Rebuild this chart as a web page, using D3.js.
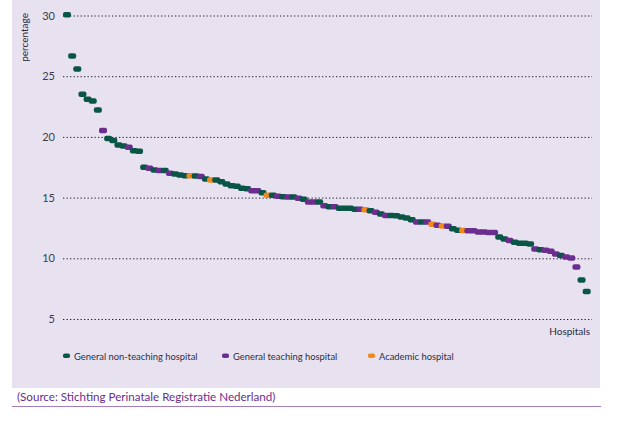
<!DOCTYPE html>
<html>
<head>
<meta charset="utf-8">
<script src="https://cdn.jsdelivr.net/npm/d3@7"></script>
<style>
  html, body { margin: 0; padding: 0; background: #ffffff; }
  svg { display: block; }
  text { font-family: Lato, "Open Sans", sans-serif; }
</style>
</head>
<body>
<svg id="chart" width="622" height="428"></svg>
<script>
// Hospital types: G = general non-teaching, P = general teaching, O = academic
const hospitalTypes = [
  "G","G","G","G","G","G","G","P","G","G",
  "G","G","P","G","G","G","P","G","P","G",
  "P","G","G","G","O","G","P","G","O","G",
  "G","G","G","G","G","G","P","P","G","O",
  "G","P","G","P","G","P","G","P","P","G",
  "P","G","P","G","G","G","G","P","O","G",
  "P","G","P","G","G","G","G","G","P","G",
  "P","O","P","O","P","G","G","O","P","P",
  "P","P","P","P","G","G","P","G","G","G",
  "G","P","G","P","P","P","G","P","P","P",
  "G","G"
];
const percentages = [
  30.07, 26.67, 25.60, 23.51, 23.10, 22.96, 22.22, 20.53, 19.86, 19.70,
  19.34, 19.26, 19.15, 18.85, 18.81, 17.49, 17.42, 17.28, 17.24, 17.24,
  17.01, 16.94, 16.87, 16.81, 16.81, 16.77, 16.73, 16.53, 16.44, 16.44,
  16.30, 16.12, 15.98, 15.94, 15.76, 15.72, 15.57, 15.56, 15.39, 15.20,
  15.20, 15.12, 15.06, 15.05, 15.04, 14.94, 14.87, 14.63, 14.63, 14.63,
  14.32, 14.24, 14.24, 14.13, 14.13, 14.13, 14.05, 14.05, 13.99, 13.91,
  13.80, 13.64, 13.52, 13.52, 13.51, 13.40, 13.31, 13.17, 12.98, 12.98,
  12.98, 12.81, 12.73, 12.67, 12.65, 12.43, 12.32, 12.29, 12.26, 12.26,
  12.16, 12.16, 12.12, 12.12, 11.75, 11.58, 11.47, 11.33, 11.25, 11.25,
  11.17, 10.76, 10.70, 10.66, 10.59, 10.35, 10.23, 10.10, 10.02, 9.28,
  8.21, 7.27
];
const yTicks = [5, 10, 15, 20, 25, 30];
const legendLabels = ["General non-teaching hospital", "General teaching hospital", "Academic hospital"];
const legendKeys = ["G", "P", "O"];
const yAxisTitle = "percentage";
const xAxisTitle = "Hospitals";
const sourceText = "(Source: Stichting Perinatale Registratie Nederland)";

const colors = { G: "#0a5646", P: "#6b2d8e", O: "#f0891e" };

const svg = d3.select("#chart");

// panel background
svg.append("rect").attr("x", 12).attr("y", 0).attr("width", 588).attr("height", 388)
  .attr("fill", "#e8e2f0");

const data = percentages.map((v, i) => ({ i, v, t: hospitalTypes[i] }));

const x = d3.scalePoint().domain(data.map(d => d.i)).range([67, 586.7]);
const y = d3.scaleLinear().domain([5, 30]).range([319, 15.5]);

// gridlines + tick labels via axis
const axis = d3.axisLeft(y).tickValues(yTicks).tickSize(-(592 - 63)).tickPadding(8).tickFormat(d3.format("d"));
const gAxis = svg.append("g").attr("transform", "translate(63,0)").call(axis);
gAxis.select(".domain").remove();
gAxis.selectAll(".tick line")
  .attr("stroke", "#1e1e28").attr("stroke-width", 1)
  .attr("stroke-dasharray", "1.3,2.2");
gAxis.selectAll(".tick text")
  .attr("fill", "#3c3c50").attr("font-size", 11).attr("x", -8);

// y axis title
svg.append("text")
  .attr("transform", "translate(28,13) rotate(-90)")
  .attr("text-anchor", "end")
  .attr("font-size", 10)
  .attr("fill", "#2a2a3a")
  .text(yAxisTitle);

// x axis title
svg.append("text")
  .attr("x", 590).attr("y", 335)
  .attr("text-anchor", "end")
  .attr("font-size", 10)
  .attr("fill", "#2a2a3a")
  .text(xAxisTitle);

// markers
svg.append("g").selectAll("rect").data(data).join("rect")
  .attr("x", d => x(d.i) - 4)
  .attr("y", d => y(d.v) - 2.75)
  .attr("width", 8).attr("height", 5.5)
  .attr("rx", 2).attr("ry", 2)
  .attr("fill", d => colors[d.t]);

// legend
const legendX = [63, 222, 368];
const lg = svg.append("g");
legendKeys.forEach((k, j) => {
  lg.append("rect").attr("x", legendX[j]).attr("y", 353.5).attr("width", 7).attr("height", 4.5)
    .attr("rx", 1.8).attr("fill", colors[k]);
  lg.append("text").attr("x", legendX[j] + 11).attr("y", 359.5)
    .attr("font-size", 9.4).attr("fill", "#2a3048")
    .text(legendLabels[j]);
});

// source
svg.append("text").attr("x", 17).attr("y", 400.5)
  .attr("font-size", 11.6).attr("fill", "#6b2d8e")
  .text(sourceText);
svg.append("line").attr("x1", 12).attr("x2", 601).attr("y1", 406.5).attr("y2", 406.5)
  .attr("stroke", "#a47fc0").attr("stroke-width", 1);
</script>
</body>
</html>
